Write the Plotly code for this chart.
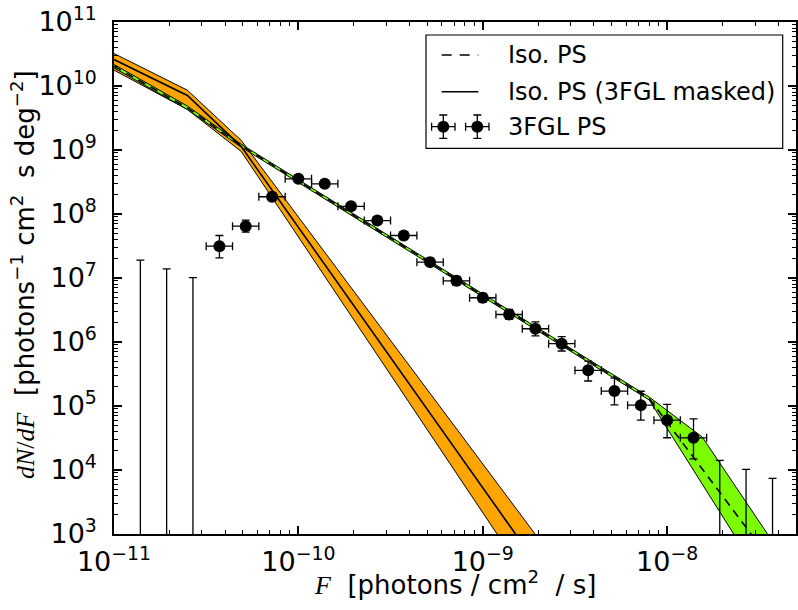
import plotly.graph_objects as go

# ---------------- data ----------------
# 3FGL point-source histogram (bin centres, values, vertical error bounds)
F_pts = [3.73e-11, 5.18e-11, 7.20e-11, 1.00e-10, 1.39e-10, 1.93e-10, 2.68e-10,
         3.73e-10, 5.18e-10, 7.20e-10, 1.00e-9, 1.39e-9, 1.93e-9, 2.68e-9,
         3.73e-9, 5.18e-9, 7.20e-9, 1.00e-8, 1.39e-8]
F_edges = [3.162e-11, 4.394e-11, 6.105e-11, 8.483e-11, 1.179e-10, 1.638e-10,
           2.276e-10, 3.162e-10, 4.394e-10, 6.105e-10, 8.483e-10, 1.179e-9,
           1.638e-9, 2.276e-9, 3.162e-9, 4.394e-9, 6.105e-9, 8.483e-9,
           1.179e-8, 1.638e-8]
dNdF_pts = [3.14e7, 6.45e7, 1.86e8, 3.55e8, 2.96e8, 1.32e8, 7.9e7, 4.61e7,
            1.77e7, 9.04e6, 4.91e6, 2.69e6, 1.61e6, 9.4e5, 3.61e5, 1.71e5,
            1.03e5, 6.0e4, 3.18e4]
dNdF_hi = [4.61e7, 8.0e7, 2.15e8, 3.95e8, 3.30e8, 1.47e8, 8.96e7, 5.32e7,
           2.04e7, 1.06e7, 5.77e6, 3.22e6, 2.07e6, 1.21e6, 5.04e5, 2.73e5,
           1.70e5, 1.06e5, 6.3e4]
dNdF_lo = [2.07e7, 5.2e7, 1.61e8, 3.18e8, 2.66e8, 1.18e8, 6.97e7, 3.99e7,
           1.53e7, 7.69e6, 4.18e6, 2.25e6, 1.25e6, 7.23e5, 2.46e5, 1.04e5,
           6.0e4, 3.19e4, 1.49e4]

# empty bins: upper limits only
UL_F = [1.39e-11, 1.93e-11, 2.68e-11, 1.93e-8, 2.68e-8, 3.73e-8]
UL_val = [1.90e7, 1.39e7, 1.01e7, 1.41e4, 1.02e4, 7.4e3]
UL_base = 1e2

# Iso. PS (3FGL masked): solid line + orange band
mask_mid_F = [1.0e-11, 2.5e-11, 4.9e-11, 2.65e-9]
mask_mid = [2.59e10, 7.11e9, 1.13e9, 1e2]
mask_up_F = [1.0e-11, 2.5e-11, 4.9e-11, 3.49e-9]
mask_up = [3.22e10, 8.6e9, 1.41e9, 1e2]
mask_lo_F = [1.0e-11, 2.5e-11, 4.9e-11, 2.04e-9]
mask_lo = [1.77e10, 4.30e9, 9.48e8, 1e2]

# Iso. PS: dashed line + green band
iso_mid_F = [1.0e-11, 2.5e-11, 4.9e-11, 8.0e-9, 5.2e-8]
iso_mid = [2.04e10, 4.56e9, 1.17e9, 1.31e5, 1e2]
iso_up_F = [1.0e-11, 2.5e-11, 4.9e-11, 8.0e-9, 1.55e-8, 6.0e-8]
iso_up = [2.17e10, 4.87e9, 1.23e9, 1.38e5, 3.28e4, 1e2]
iso_lo_F = [1.0e-11, 2.5e-11, 4.9e-11, 8.0e-9, 3.8e-8]
iso_lo = [1.92e10, 4.30e9, 1.11e9, 1.24e5, 1e2]

x_tick_vals = [1e-11, 1e-10, 1e-9, 1e-8]
x_tick_text = ["10<sup>−11</sup>", "10<sup>−10</sup>", "10<sup>−9</sup>", "10<sup>−8</sup>"]
y_tick_vals = [1e3, 1e4, 1e5, 1e6, 1e7, 1e8, 1e9, 1e10, 1e11]
y_tick_text = ["10<sup>3</sup>", "10<sup>4</sup>", "10<sup>5</sup>", "10<sup>6</sup>",
               "10<sup>7</sup>", "10<sup>8</sup>", "10<sup>9</sup>", "10<sup>10</sup>",
               "10<sup>11</sup>"]
x_minor_vals = [m * d for d in (1e-11, 1e-10, 1e-9, 1e-8) for m in range(2, 10)]
y_minor_vals = [m * d for d in (1e3, 1e4, 1e5, 1e6, 1e7, 1e8, 1e9, 1e10) for m in range(2, 10)]

# ---------------- figure ----------------
ORANGE = "#FFA500"
GREEN = "#7CFC00"
FONT = "DejaVu Sans"
MATH = "Liberation Serif"

fig = go.Figure()

fig.add_trace(go.Scatter(x=mask_up_F + mask_lo_F[::-1], y=mask_up + mask_lo[::-1],
                         fill="toself", fillcolor=ORANGE, mode="lines",
                         line=dict(color="black", width=1), showlegend=False))
fig.add_trace(go.Scatter(x=iso_up_F + iso_lo_F[::-1], y=iso_up + iso_lo[::-1],
                         fill="toself", fillcolor=GREEN, mode="lines",
                         line=dict(color="black", width=1), showlegend=False))
fig.add_trace(go.Scatter(x=mask_mid_F, y=mask_mid, mode="lines",
                         line=dict(color="black", width=1.6), showlegend=False))
fig.add_trace(go.Scatter(x=iso_mid_F, y=iso_mid, mode="lines",
                         line=dict(color="black", width=1.6, dash="8px,6px"),
                         showlegend=False))

# data points
fig.add_trace(go.Scatter(
    x=F_pts, y=dNdF_pts, mode="markers",
    marker=dict(color="black", size=12, line=dict(width=0)),
    error_x=dict(type="data", symmetric=False,
                 array=[h - f for h, f in zip(F_edges[1:], F_pts)],
                 arrayminus=[f - l for l, f in zip(F_edges[:-1], F_pts)],
                 color="black", thickness=1.3, width=4),
    error_y=dict(type="data", symmetric=False,
                 array=[h - v for h, v in zip(dNdF_hi, dNdF_pts)],
                 arrayminus=[v - l for l, v in zip(dNdF_lo, dNdF_pts)],
                 color="black", thickness=1.3, width=4),
    showlegend=False))

# upper limits
fig.add_trace(go.Scatter(
    x=UL_F, y=[UL_base] * len(UL_F), mode="markers",
    marker=dict(color="black", size=1, opacity=0),
    error_y=dict(type="data", symmetric=False,
                 array=[u - UL_base for u in UL_val], arrayminus=[0] * len(UL_F),
                 color="black", thickness=1.3, width=4),
    showlegend=False))

# ---- manual legend (overlay axes spanning the plot area) ----
def px2u(px):
    return (px - 114) / 682.0

def py2v(py):
    return (534 - py) / 512.0

leg_x0, leg_x1 = px2u(441.7), px2u(478.3)
fig.add_trace(go.Scatter(x=[leg_x0, leg_x1], y=[py2v(55)] * 2, mode="lines",
                         line=dict(color="black", width=1.6, dash="10px,8px"),
                         xaxis="x2", yaxis="y2", showlegend=False))
fig.add_trace(go.Scatter(x=[leg_x0, leg_x1], y=[py2v(91.7)] * 2, mode="lines",
                         line=dict(color="black", width=1.6),
                         xaxis="x2", yaxis="y2", showlegend=False))
fig.add_trace(go.Scatter(
    x=[px2u(443.3), px2u(477.3)], y=[py2v(126.7)] * 2, mode="markers",
    marker=dict(color="black", size=12),
    error_x=dict(type="constant", value=11.7 / 682.0, color="black", thickness=1.3, width=4),
    error_y=dict(type="constant", value=11.7 / 512.0, color="black", thickness=1.3, width=4),
    xaxis="x2", yaxis="y2", showlegend=False))

legend_labels = ["Iso. PS", "Iso. PS (3FGL masked)", "3FGL PS"]
legend_rows = [55, 91.7, 126.7]
annotations = []
for lab, row in zip(legend_labels, legend_rows):
    annotations.append(dict(x=px2u(506), y=py2v(row), xref="paper", yref="paper",
                            text=lab, showarrow=False, xanchor="left", yanchor="middle",
                            font=dict(family=FONT, size=24, color="black")))

annotations.append(dict(
    x=px2u(455), y=py2v(583), xref="paper", yref="paper", showarrow=False,
    xanchor="center", yanchor="middle",
    text=f'<span style="font-family:{MATH}"><i>F</i></span>  [photons / cm<sup>2</sup>  / s]',
    font=dict(family=FONT, size=26, color="black")))
annotations.append(dict(
    x=px2u(23), y=py2v(275), xref="paper", yref="paper", showarrow=False,
    xanchor="center", yanchor="middle", textangle=-90,
    text=f'<span style="font-family:{MATH}"><i>dN</i>/<i>dF</i></span>  '
         '[photons<sup>−1</sup> cm<sup>2</sup>  s deg<sup>−2</sup>]',
    font=dict(family=FONT, size=26, color="black")))

shapes = [dict(type="rect", xref="paper", yref="paper",
               x0=px2u(426), x1=px2u(782.7), y0=py2v(148.3), y1=py2v(35),
               line=dict(color="black", width=1.2), fillcolor="rgba(0,0,0,0)",
               layer="below")]

axis_common = dict(
    type="log", showline=True, linecolor="black", linewidth=1.5, mirror="allticks",
    ticks="inside", ticklen=8, tickwidth=2, tickcolor="black",
    showgrid=False, zeroline=False, automargin=False, tickmode="array",
    tickfont=dict(family=FONT, size=27, color="black"),
)

fig.update_layout(
    width=798, height=610,
    margin=dict(l=114, r=2, t=22, b=76),
    paper_bgcolor="white", plot_bgcolor="white",
    xaxis=dict(range=[-11, -7.30103], tickvals=x_tick_vals, ticktext=x_tick_text,
               ticklabelstandoff=3,
               minor=dict(tickmode="array", tickvals=x_minor_vals, ticks="inside",
                          ticklen=4, tickwidth=1, tickcolor="black", showgrid=False),
               **axis_common),
    yaxis=dict(range=[3, 11], tickvals=y_tick_vals, ticktext=y_tick_text,
               ticklabelstandoff=10,
               minor=dict(tickmode="array", tickvals=y_minor_vals, ticks="inside",
                          ticklen=4, tickwidth=1, tickcolor="black", showgrid=False),
               **axis_common),
    xaxis2=dict(overlaying="x", range=[0, 1], visible=False, fixedrange=True),
    yaxis2=dict(overlaying="y", range=[0, 1], visible=False, fixedrange=True),
    annotations=annotations, shapes=shapes, showlegend=False,
)

fig.write_html("out.html", config={"displayModeBar": False},
               post_script="document.body.style.margin='0';")
